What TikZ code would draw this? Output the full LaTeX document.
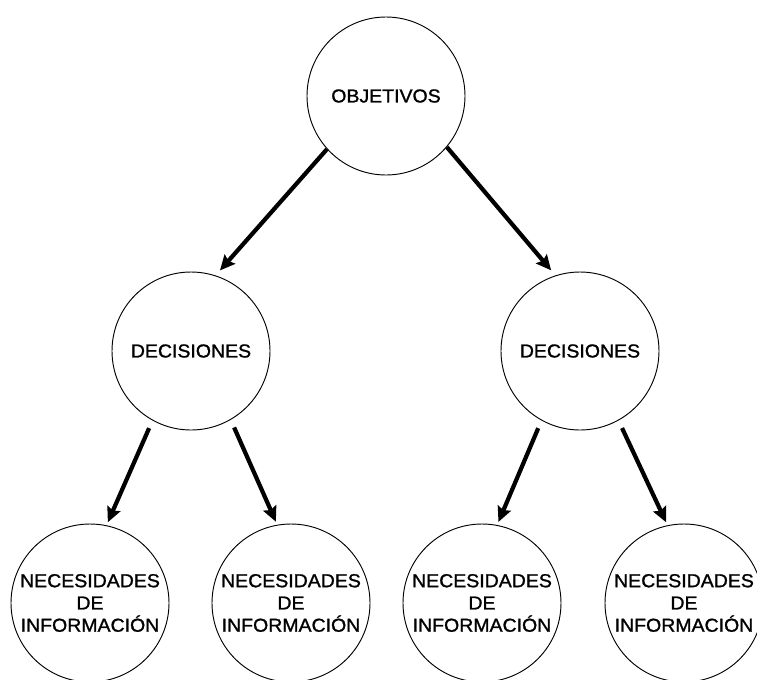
\documentclass[tikz,border=0pt]{standalone}
\usepackage{fontspec}
\setmainfont{Liberation Sans}[FakeStretch=1.04, FakeBold=1.2]
\usetikzlibrary{shapes.geometric, arrows.meta, positioning}
\tikzstyle{objective} = [circle, draw=black, line width=0.8pt, minimum size=4.74cm, inner sep=0pt, text centered, font=\fontsize{16}{19}\selectfont]
\tikzstyle{decision} = [objective]
\tikzstyle{need} = [objective, align=center]
\tikzstyle{arrow} = [line width=3.6pt, ->, >={Stealth[length=0.45cm, width=0.42cm, inset=0.07cm]}]

\begin{document}
\begin{tikzpicture}[on grid]

    \useasboundingbox (0,0) rectangle (22.71,-20.37);

    \node (objetivos) [objective] at (11.58,-2.88) {OBJETIVOS};

    \node (decl) [decision, below left=7.65cm and 5.85cm of objetivos]  {DECISIONES};
    \node (decr) [decision, below right=7.65cm and 5.82cm of objetivos] {DECISIONES};
    \node (nec1) [need, below left=7.56cm and 3.03cm of decl]   {NECESIDADES\\DE\\INFORMACIÓN};
    \node (nec2) [need, below right=7.56cm and 3.0cm of decl]   {NECESIDADES\\DE\\INFORMACIÓN};
    \node (nec3) [need, below left=7.56cm and 2.94cm of decr]   {NECESIDADES\\DE\\INFORMACIÓN};
    \node (nec4) [need, below right=7.56cm and 3.12cm of decr]  {NECESIDADES\\DE\\INFORMACIÓN};

    \draw [arrow, shorten >=0.2cm] (objetivos.222) -- (decl.72);
    \draw [arrow, shorten >=0.2cm] (objetivos.320) -- (decr.108);
    \draw [arrow, shorten <=0.25cm, shorten >=0.1cm] (decl.241) -- (nec1.78);
    \draw [arrow, shorten <=0.25cm, shorten >=0.1cm] (decl.300) -- (nec2.100);
    \draw [arrow, shorten <=0.25cm, shorten >=0.1cm] (decr.241) -- (nec3.79);
    \draw [arrow, shorten <=0.25cm, shorten >=0.1cm] (decr.299) -- (nec4.102);

\end{tikzpicture}
\end{document}
